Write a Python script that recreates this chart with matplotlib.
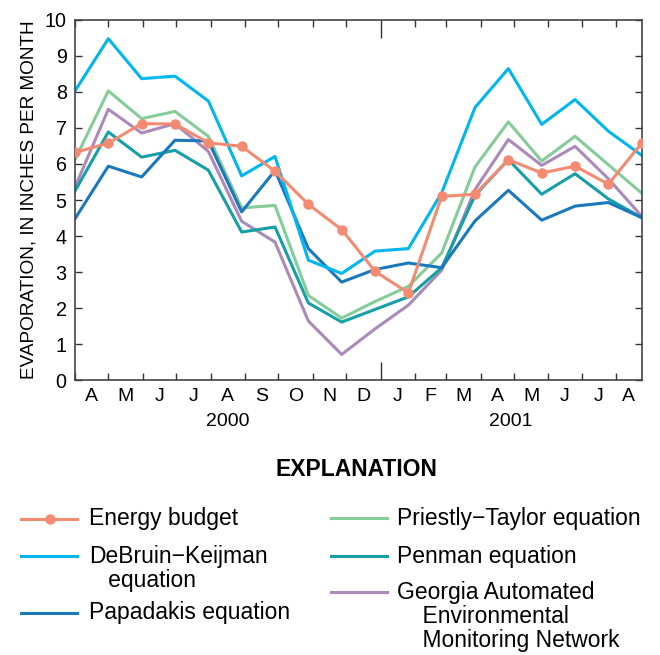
import numpy as np
import pandas as pd
import matplotlib
matplotlib.use("Agg")
import matplotlib.pyplot as plt
from matplotlib.lines import Line2D

plt.rcParams["font.family"] = ["Liberation Sans", "DejaVu Sans"]

# ---- Data (inches per month), one value per 30-day step starting April 2000 ----
energy_budget = [6.32, 6.58, 7.12, 7.11, 6.59, 6.49, 5.80, 4.88, 4.18, 3.02,
                 2.42, 5.10, 5.16, 6.12, 5.75, 5.94, 5.44, 6.58]
debruin_keijman = [8.03, 9.48, 8.37, 8.44, 7.75, 5.67, 6.21, 3.33, 2.96, 3.58,
                   3.65, 5.20, 7.57, 8.65, 7.10, 7.79, 6.91, 6.24]
papadakis = [4.48, 5.94, 5.64, 6.66, 6.64, 4.67, 5.82, 3.65, 2.72, 3.07,
             3.25, 3.12, 4.42, 5.27, 4.44, 4.83, 4.93, 4.51]
priestly_taylor = [6.12, 8.03, 7.26, 7.46, 6.77, 4.78, 4.85, 2.35, 1.72, 2.18,
                   2.60, 3.53, 5.92, 7.17, 6.08, 6.77, 5.98, 5.19]
penman = [5.25, 6.89, 6.19, 6.38, 5.83, 4.11, 4.25, 2.14, 1.61, 1.96,
          2.31, 3.12, 5.13, 6.12, 5.16, 5.73, 5.03, 4.51]
georgia_aemn = [5.36, 7.52, 6.86, 7.12, 6.35, 4.41, 3.83, 1.64, 0.71, 1.42,
                2.08, 3.05, 5.29, 6.68, 5.96, 6.49, 5.59, 4.55]

month_labels = ["A", "M", "J", "J", "A", "S", "O", "N", "D",
                "J", "F", "M", "A", "M", "J", "J", "A"]
year_labels = ["2000", "2001"]

# ---- x scale in days from 1 April 2000 ----
start = pd.Timestamp("2000-04-01")
month_starts = pd.date_range("2000-04-01", "2001-08-01", freq="MS")
tick_days = np.array((month_starts - start).days, dtype=float)
step = 30
x = step * np.arange(len(energy_budget))
x_end = x[-1]
year_break = (pd.Timestamp("2001-01-01") - start).days

series = [
    (energy_budget, "#f28b72", True),
    (debruin_keijman, "#00b6ef", False),
    (papadakis, "#1a78bd", False),
    (priestly_taylor, "#84cc98", False),
    (penman, "#14a0a4", False),
    (georgia_aemn, "#a98ab9", False),
]

fig = plt.figure(figsize=(6.6, 6.55), dpi=100)
ax = fig.add_axes([0.1136, 0.4198, 0.8587, 0.5497])

for values, color, marker in series[::-1]:
    ax.plot(x, values, color=color, lw=2.2,
            marker="o" if marker else None, ms=6.5, zorder=3 if marker else 2)

ax.set_xlim(0, x_end)
ax.set_ylim(0, 10)
ax.set_yticks(range(11))
ax.set_xticks(tick_days)
ax.set_xticklabels([])
mids = np.append((tick_days[:-1] + tick_days[1:]) / 2, (tick_days[-1] + x_end) / 2)
ax.set_xticks(mids, minor=True)
ax.set_xticklabels(month_labels, minor=True)

ax.tick_params(axis="both", which="major", direction="in", length=5, width=1,
               top=True, right=True, labelsize=14.2, color="#333333")
ax.tick_params(axis="x", which="minor", length=0, pad=6, labelsize=14)
ax.tick_params(axis="y", pad=6)

# longer tick at the year boundary
for t in ax.xaxis.get_major_ticks():
    if abs(t.get_loc() - year_break) < 0.5:
        t.tick1line.set_markersize(13)
        t.tick2line.set_markersize(13)

for s in ax.spines.values():
    s.set_linewidth(1.2)
    s.set_color("#444444")

ax.set_ylabel("EVAPORATION, IN INCHES PER MONTH", fontsize=13.7, labelpad=5)

# year labels centered under each year's months
trans = ax.get_xaxis_transform()
ax.text(year_break / 2, -0.115, year_labels[0], transform=trans,
        ha="center", va="center", fontsize=14)
ax.text((year_break + x_end) / 2, -0.115, year_labels[1], transform=trans,
        ha="center", va="center", fontsize=14)

# ---- Explanation (legend) ----
W, H = 660.0, 655.0


def fx(px):
    return px / W


def fy(py):
    return 1 - py / H


fig.text(fx(356), fy(470), "EXPLANATION", ha="center", va="center",
         fontsize=16.5, fontweight="bold")

entries = [
    (series[0], 21, 89, 519, ["Energy budget"]),
    (series[1], 21, 89, 556, ["DeBruin\u2212Keijman", "   equation"]),
    (series[2], 21, 89, 613, ["Papadakis equation"]),
    (series[3], 331, 397, 518, ["Priestly\u2212Taylor equation"]),
    (series[4], 331, 397, 556, ["Penman equation"]),
    (series[5], 331, 397, 592, ["Georgia Automated", "    Environmental",
                                "    Monitoring Network"]),
]
for (values, color, marker), hx, tx, ty, lines in entries:
    fig.add_artist(Line2D([fx(hx), fx(hx + 56)], [fy(ty), fy(ty)],
                          transform=fig.transFigure, color=color, lw=2.2))
    if marker:
        fig.add_artist(Line2D([fx(hx + 29)], [fy(ty)], transform=fig.transFigure,
                              color=color, marker="o", ms=6.5))
    for i, line in enumerate(lines):
        fig.text(fx(tx), fy(ty + i * 24.5), line, ha="left", va="center",
                 fontsize=16.5)

fig.savefig("out.png", dpi=100)
plt.close(fig)
